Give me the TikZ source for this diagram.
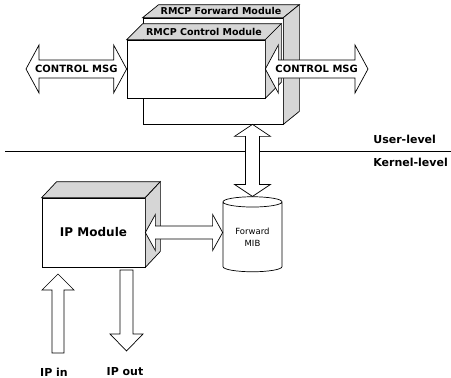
\documentclass[tikz,border=0pt]{standalone}
\usepackage{fontspec}
\setmainfont{DejaVu Sans}
\usetikzlibrary{calc,shapes.geometric}

\tikzset{
  modbox/.style={draw, fill=white, inner sep=0pt},
  face/.style={draw, fill=black!16},
  lbl/.style={font=\bfseries\fontsize{#1}{#1}\selectfont, inner sep=0pt},
  dblock/.style n args={3}{to path={
    -- ($(\tikztostart)!#1pt!(\tikztotarget)!#2pt!90:(\tikztotarget)$)
    -- ($(\tikztostart)!#1pt!(\tikztotarget)!#3pt!90:(\tikztotarget)$)
    -- ($(\tikztotarget)!#1pt!(\tikztostart)!#3pt!270:(\tikztostart)$)
    -- ($(\tikztotarget)!#1pt!(\tikztostart)!#2pt!270:(\tikztostart)$)
    -- (\tikztotarget)
    -- ($(\tikztotarget)!#1pt!(\tikztostart)!#2pt!90:(\tikztostart)$)
    -- ($(\tikztotarget)!#1pt!(\tikztostart)!#3pt!90:(\tikztostart)$)
    -- ($(\tikztostart)!#1pt!(\tikztotarget)!#3pt!270:(\tikztotarget)$)
    -- ($(\tikztostart)!#1pt!(\tikztotarget)!#2pt!270:(\tikztotarget)$)
    -- cycle}},
  sblock/.style n args={3}{to path={
    ($(\tikztostart)!#3pt!90:(\tikztotarget)$)
    -- ($(\tikztotarget)!#1pt!(\tikztostart)!#3pt!270:(\tikztostart)$)
    -- ($(\tikztotarget)!#1pt!(\tikztostart)!#2pt!270:(\tikztostart)$)
    -- (\tikztotarget)
    -- ($(\tikztotarget)!#1pt!(\tikztostart)!#2pt!90:(\tikztostart)$)
    -- ($(\tikztotarget)!#1pt!(\tikztostart)!#3pt!90:(\tikztostart)$)
    -- ($(\tikztostart)!#3pt!270:(\tikztotarget)$)
    -- cycle}},
}

\newcommand\modfaces[3]{%
  \draw[face] (#1.north west) -- ++(#2,-#3) -- ($(#1.north east)+(#2,-#3)$) -- (#1.north east) -- cycle;
  \draw[face] (#1.north east) -- ++(#2,-#3) -- ($(#1.south east)+(#2,-#3)$) -- (#1.south east) -- cycle;
}

\begin{document}
\begin{tikzpicture}[x=1pt,y=-1pt,line width=0.7pt]
  \useasboundingbox (0,0) rectangle (451,378);

  \node[modbox, minimum width=140, minimum height=106] (fwd) at (213,71) {};
  \modfaces{fwd}{16}{13}
  \node[lbl=9.5] (fwdlbl) at ($(fwd.north)+(8,-6.5)$) {RMCP Forward Module};

  \node[modbox, minimum width=138, minimum height=58] (ctrl) at (196,69) {};
  \modfaces{ctrl}{16}{16}
  \node[lbl=9.5] (ctrllbl) at ($(ctrl.north)+(8,-8)$) {RMCP Control Module};

  \node[modbox, minimum width=103, minimum height=69] (ipm) at (93.5,232.5) {};
  \modfaces{ipm}{15}{16}
  \node[lbl=12] (ipmlbl) at (ipm) {IP Module};

  \node[draw, fill=white, cylinder, shape border rotate=90, aspect=0.3,
        minimum width=59, minimum height=75, inner sep=0pt, align=center,
        font=\fontsize{8.5}{12}\selectfont] (mib) at (252.5,237) {Forward\\MIB};

  \coordinate (lend) at (26,69);
  \coordinate (rend) at (368,69);
  \coordinate (vtop) at (mib.north |- fwd.south);

  \draw[fill=white, dblock={13}{24}{9}] (lend) to (ctrl.west);
  \draw[fill=white, dblock={13}{24}{9}] (ctrl.east) to (rend);
  \node[lbl=10] (lmsg) at ($(lend)!.5!(ctrl.west)$) {CONTROL MSG};
  \node[lbl=10] (rmsg) at ($(ctrl.east)!.5!(rend)$) {CONTROL MSG};

  \coordinate (lvlL) at (5,151);
  \coordinate (lvlR) at (451,151);
  \draw (lvlL) -- (lvlR);
  \node[lbl=11, anchor=west] (ulvl) at (373,139) {User-level};
  \node[lbl=11, anchor=west] (klvl) at (373,162) {Kernel-level};

  \draw[fill=white, dblock={12}{18}{7}] (vtop) to (mib.north);
  \draw[fill=white, dblock={10}{18}{6.5}] (ipm.east) to (ipm.east -| mib.west);

  \coordinate (intail) at (58,353);
  \coordinate (intip) at (58,274);
  \coordinate (outtail) at (126.5,270);
  \coordinate (outtip) at (126.5,351);
  \draw[fill=white, sblock={16}{16}{6}] (intail) to (intip);
  \draw[fill=white, sblock={17}{16.5}{6.5}] (outtail) to (outtip);
  \node[lbl=11] (ipin) at (54,372) {IP in};
  \node[lbl=11] (ipout) at (125,372) {IP out};
\end{tikzpicture}
\end{document}
